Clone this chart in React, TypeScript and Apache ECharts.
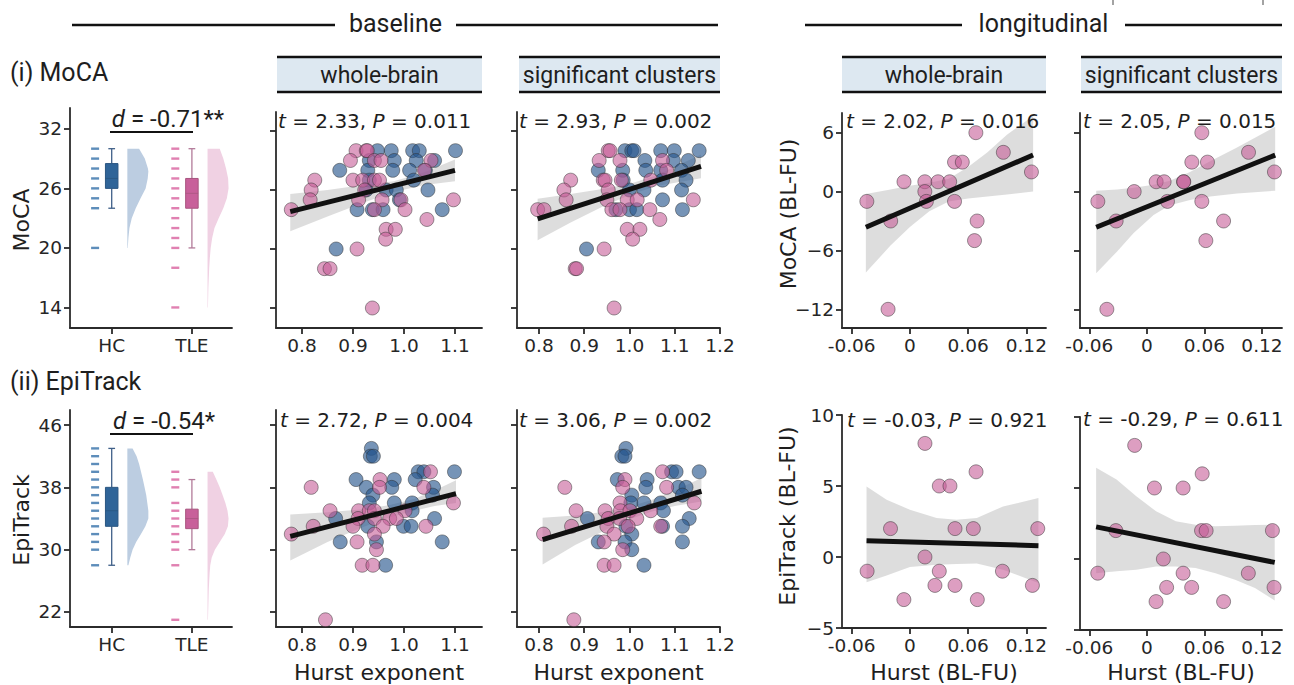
import React, { useEffect, useRef } from "react";
import * as echarts from "echarts";

// ---------------- tick values ----------------
const groupLabels = ["HC", "TLE"];
const mocaTicks = [14, 20, 26, 32];
const epiTicks = [22, 30, 38, 46];
const hurstTicksWB = [0.8, 0.9, 1.0, 1.1];
const hurstTicksSC = [0.8, 0.9, 1.0, 1.1, 1.2];
const dHurstTicks = [-0.06, 0, 0.06, 0.12];
const dMocaTicks = [-12, -6, 0, 6];
const dEpiTicks = [-5, 0, 5, 10];

// ---------------- raincloud data ----------------
const mocaStripHC = [30, 29, 28, 27, 26, 25, 24, 20];
const mocaStripTLE = [30, 29, 28, 27, 26, 25, 24, 23, 22, 21, 20, 18, 14];
const epiStripHC = [43, 42, 41, 40, 39, 38, 37, 36, 35, 34, 33, 32, 31, 30, 28];
const epiStripTLE = [40, 39, 38, 36, 35, 34, 33, 32, 31, 30, 28, 21];

// [min, q1, median, q3, max]
const mocaBoxHC = [24, 26, 27, 28.5, 30];
const mocaBoxTLE = [20, 24, 25.5, 27, 30];
const epiBoxHC = [28, 33, 35, 38, 43];
const epiBoxTLE = [30, 32.7, 34, 35.2, 39];

// [value, relative density]
const mocaViolinHC = [[20, 0.02], [21, 0.05], [22, 0.1], [23, 0.21], [24, 0.4], [25, 0.63], [26, 0.87], [27, 0.97], [27.7, 1.0], [28, 0.98], [29, 0.83], [30, 0.56]];
const mocaViolinTLE = [[14, 0.02], [15, 0.03], [16, 0.04], [17, 0.06], [18, 0.08], [19, 0.11], [20, 0.15], [21, 0.22], [22, 0.33], [23, 0.53], [24, 0.75], [25, 0.92], [26, 1.0], [27, 0.98], [28, 0.88], [29, 0.75], [30, 0.58]];
const epiViolinHC = [[28, 0.05], [29, 0.14], [30, 0.25], [31, 0.42], [32, 0.65], [33, 0.86], [34, 1.0], [35, 1.0], [36, 0.95], [37, 0.9], [38, 0.82], [39, 0.74], [40, 0.65], [41, 0.56], [42, 0.44], [43, 0.25]];
const epiViolinTLE = [[21, 0.02], [22, 0.03], [23, 0.04], [24, 0.05], [25, 0.06], [26, 0.08], [27, 0.1], [28, 0.13], [29, 0.2], [30, 0.35], [31, 0.58], [32, 0.82], [33, 0.97], [34, 1.0], [35, 0.95], [36, 0.85], [37, 0.72], [38, 0.58], [39, 0.42], [40, 0.25]];

const effectTexts = ["-0.71**", "-0.54*"];

// ---------------- baseline scatter: MoCA ----------------
const mocaWB_HC = [[0.948, 30], [0.975, 30], [1.017, 30], [1.03, 30], [1.101, 30], [0.932, 29], [0.981, 29], [1.024, 29], [1.06, 29], [0.874, 28], [0.929, 28], [0.978, 28], [1.011, 28], [1.042, 28], [0.932, 27], [1.019, 27], [0.926, 26], [0.965, 26], [0.985, 26], [1.047, 26], [0.991, 25], [0.908, 24], [0.938, 24], [0.959, 24], [1.075, 24], [0.867, 20]];
const mocaWB_TLE = [[0.906, 30], [0.926, 30], [0.928, 30], [0.895, 29], [0.942, 29], [0.955, 29], [1.053, 29], [1.04, 28], [0.825, 27], [0.9, 27], [0.919, 27], [0.942, 27], [0.952, 27], [0.818, 26], [0.923, 26], [0.816, 25], [0.911, 25], [0.957, 25], [0.994, 25], [1.097, 25], [0.779, 24], [0.942, 24], [1.002, 24], [1.045, 23], [0.965, 22], [0.983, 22], [0.964, 21], [0.908, 20], [0.844, 18], [0.855, 18], [0.938, 14]];
const mocaSC_HC = [[0.99, 30], [1.005, 30], [1.01, 30], [1.069, 30], [1.099, 30], [1.154, 30], [1.034, 29], [1.097, 29], [1.13, 29], [0.931, 28], [0.985, 28], [1.036, 28], [1.069, 28], [1.115, 28], [0.986, 27], [1.073, 27], [1.125, 27], [1.0, 26], [1.032, 26], [1.115, 26], [1.073, 25], [0.97, 24], [1.0, 24], [1.016, 24], [1.117, 24], [0.905, 20]];
const mocaSC_TLE = [[0.953, 30], [0.957, 30], [0.933, 29], [0.979, 29], [1.073, 29], [1.082, 28], [0.87, 27], [0.942, 27], [0.946, 27], [0.982, 27], [1.047, 27], [0.855, 26], [0.953, 26], [0.86, 25], [0.95, 25], [0.995, 25], [1.017, 25], [1.141, 25], [0.797, 24], [0.811, 24], [0.961, 24], [0.979, 24], [1.045, 24], [1.067, 23], [0.995, 22], [1.023, 22], [1.007, 21], [0.944, 20], [0.88, 18], [0.883, 18], [0.966, 14]];

// ---------------- baseline scatter: EpiTrack ----------------
const epiWB_HC = [[0.936, 43], [0.934, 42], [0.94, 42], [1.028, 40], [1.039, 40], [1.099, 40], [0.906, 39], [0.981, 39], [1.022, 39], [0.926, 38], [0.976, 38], [1.058, 38], [0.939, 37], [1.056, 37], [0.932, 36], [0.981, 36], [1.016, 36], [1.016, 35], [0.866, 34], [1.06, 34], [0.929, 33], [0.999, 33], [1.014, 33], [0.875, 31], [0.946, 31], [1.075, 31], [0.964, 28]];
const epiWB_TLE = [[1.052, 40], [0.953, 39], [0.818, 38], [0.952, 38], [1.039, 38], [1.097, 36], [0.855, 35], [0.911, 35], [0.932, 35], [0.942, 35], [1.002, 35], [0.91, 34], [0.942, 34], [0.972, 34], [0.985, 34], [0.822, 33], [0.9, 33], [0.959, 33], [1.043, 33], [0.779, 32], [0.942, 32], [0.908, 31], [0.946, 30], [0.918, 28], [0.939, 28], [0.846, 21]];
const epiSC_HC = [[0.992, 43], [0.983, 42], [0.99, 42], [1.093, 40], [1.103, 40], [1.154, 40], [0.973, 39], [1.039, 39], [1.036, 38], [1.108, 38], [1.125, 38], [1.005, 37], [1.117, 37], [1.003, 36], [1.032, 36], [1.069, 36], [1.075, 35], [0.907, 34], [1.132, 34], [0.992, 33], [1.073, 33], [1.117, 33], [1.005, 32], [0.931, 31], [0.99, 31], [1.117, 31], [1.005, 30], [1.032, 28]];
const epiSC_TLE = [[1.073, 40], [0.99, 39], [0.857, 38], [0.985, 38], [1.082, 38], [0.979, 36], [1.143, 36], [0.882, 35], [0.946, 35], [0.98, 35], [1.001, 35], [1.047, 35], [0.953, 34], [0.978, 34], [1.016, 34], [0.872, 33], [0.95, 33], [0.997, 33], [1.069, 33], [0.81, 32], [0.966, 32], [0.944, 31], [0.985, 30], [0.944, 28], [0.966, 28], [0.877, 21]];

// ---------------- longitudinal scatter (TLE) ----------------
const dMocaWB = [[-0.0444, -1], [-0.0198, -3], [-0.0061, 1], [0.0154, 1], [0.0154, 0], [0.017, -1], [0.029, 1], [0.041, 1], [0.046, 3], [0.054, 3], [0.046, -1], [0.068, 6], [0.0666, -5], [0.0693, -3], [0.0963, 4], [0.1253, 2], [-0.0225, -12]];
const dMocaSC = [[-0.0511, -1], [-0.032, -3], [-0.0132, 0], [0.0097, 1], [0.018, 1], [0.0215, -1], [0.0382, 1], [0.0385, 1], [0.0469, 3], [0.0573, 6], [0.0573, -1], [0.0632, 3], [0.0615, -5], [0.08, -3], [0.106, 4], [0.133, 2], [-0.0417, -12]];
const dEpiWB = [[0.0155, 8], [0.0682, 6], [0.0303, 5], [0.0413, 5], [-0.02, 2], [0.0465, 2], [0.0654, 2], [0.1318, 2], [0.0155, 0], [-0.0441, -1], [0.0303, -1], [0.0954, -1], [0.0258, -2], [0.0465, -2], [0.1263, -2], [-0.0062, -3], [0.0695, -3]];
const dEpiSC = [[-0.0127, 8], [0.0577, 6], [0.0079, 5], [0.0378, 5], [-0.0323, 2], [0.057, 2], [0.0618, 2], [0.1309, 2], [0.0172, 0], [-0.0512, -1], [0.0378, -1], [0.1058, -1], [0.0206, -2], [0.0467, -2], [0.1326, -2], [0.0096, -3], [0.08, -3]];

// ---------------- regression lines [x, y] and CI bands [x, lower, upper] ----------------
const lineMocaWB = [[0.777, 23.8], [1.1, 28.0]];
const bandMocaWB = [[0.777, 21.8, 25.6], [0.85, 23.3, 26.0], [0.92, 24.7, 26.5], [0.98, 25.8, 26.9], [1.04, 26.5, 27.8], [1.1, 26.9, 29.1]];
const lineMocaSC = [[0.797, 23.06], [1.158, 28.4]];
const bandMocaSC = [[0.797, 20.9, 25.1], [0.87, 22.7, 25.6], [0.94, 24.3, 26.1], [1.0, 25.5, 26.6], [1.06, 26.4, 27.5], [1.158, 27.2, 29.6]];
const lineDMocaWB = [[-0.0454, -3.64], [0.127, 3.72]];
const bandDMocaWB = [[-0.0454, -8.26, -0.25], [-0.02, -5.5, 0.2], [0.0, -3.6, 0.6], [0.02, -2.0, 0.9], [0.04, -1.0, 1.3], [0.06, -0.7, 2.5], [0.08, -0.5, 4.0], [0.1, -0.3, 5.8], [0.127, 0.0, 7.7]];
const lineDMocaSC = [[-0.0528, -3.64], [0.1338, 3.72]];
const bandDMocaSC = [[-0.0528, -8.33, 0.09], [-0.031, -6.1, 0.2], [-0.014, -4.25, 0.4], [0.007, -2.4, 0.7], [0.024, -1.4, 1.1], [0.045, -0.86, 2.0], [0.066, -0.5, 3.1], [0.094, -0.2, 4.5], [0.1338, 0.09, 6.6]];
const lineEpiWB = [[0.777, 31.7], [1.102, 37.2]];
const bandEpiWB = [[0.777, 28.6, 34.5], [0.85, 31.0, 34.8], [0.92, 32.9, 35.2], [0.97, 34.1, 35.7], [1.02, 35.0, 36.5], [1.06, 35.6, 37.6], [1.102, 36.0, 38.9]];
const lineEpiSC = [[0.808, 31.3], [1.159, 37.5]];
const bandEpiSC = [[0.808, 28.1, 34.1], [0.88, 30.6, 34.4], [0.95, 32.6, 34.9], [1.0, 33.9, 35.5], [1.05, 34.9, 36.4], [1.1, 35.6, 37.6], [1.159, 36.2, 39.2]];
const lineDEpiWB = [[-0.0447, 1.15], [0.1325, 0.8]];
const bandDEpiWB = [[-0.0447, -1.78, 4.97], [-0.024, -1.3, 4.03], [0.0, -0.7, 3.33], [0.0275, -0.54, 2.74], [0.048, -0.5, 2.62], [0.069, -0.45, 2.74], [0.096, -0.9, 3.56], [0.1325, -1.83, 4.15]];
const lineDEpiSC = [[-0.0529, 2.26], [0.1333, -0.24]];
const bandDEpiSC = [[-0.0529, -1.0, 6.42], [-0.0316, -0.87, 5.6], [-0.011, -0.75, 4.42], [0.0096, -0.52, 3.36], [0.0302, -0.52, 2.66], [0.0508, -0.64, 2.42], [0.0715, -1.0, 2.3], [0.092, -1.46, 2.35], [0.1127, -2.05, 2.4], [0.1333, -2.92, 2.42]];

// ---------------- statistics texts ----------------
const statT = ["2.33", "2.93", "2.02", "2.05", "2.72", "3.06", "-0.03", "-0.29"];
const statP = ["0.011", "0.002", "0.016", "0.015", "0.004", "0.002", "0.921", "0.611"];

// ---------------- styling ----------------
const PLOT_FONT = "DejaVu Sans";
const HEAD_FONT = "Roboto";
const AX = "#2b2b2b";
const HC_DOT = "rgba(40,88,142,0.8)";
const TLE_DOT = "rgba(198,94,152,0.75)";
const BAND = "rgba(160,160,160,0.36)";

const fmtHurst = (v: number) => v.toFixed(1);
const fmtInt = (v: number) => (v < 0 ? "\u2212" + Math.abs(v) : String(v));
const fmtDH = (v: number) => (v === 0 ? "0" : v.toFixed(2));
const fmtGroup = (v: number) => groupLabels[Math.round(v)] ?? "";

function axis(grid: number, min: number, max: number, ticks: number[], fmt: any, showLabels: boolean, isY: boolean) {
  return {
    type: "value",
    gridIndex: grid,
    min,
    max,
    splitLine: { show: false },
    axisLine: { show: true, onZero: false, lineStyle: { color: AX, width: 1.8 } },
    axisTick: { show: true, customValues: ticks, length: 6, lineStyle: { color: AX, width: 1.8 } },
    axisLabel: {
      show: showLabels,
      customValues: ticks,
      formatter: fmt,
      fontFamily: PLOT_FONT,
      fontSize: 18.5,
      color: "#262626",
      margin: isY ? 8 : 8,
    },
  };
}

const grids = [
  { left: 70, top: 108, width: 162, height: 220 },
  { left: 276, top: 112, width: 206, height: 216 },
  { left: 517, top: 112, width: 203, height: 216 },
  { left: 842, top: 113, width: 204, height: 215 },
  { left: 1080, top: 113, width: 202, height: 215 },
  { left: 70, top: 410, width: 162, height: 217 },
  { left: 276, top: 410, width: 206, height: 217 },
  { left: 517, top: 410, width: 203, height: 217 },
  { left: 842, top: 415, width: 204, height: 213 },
  { left: 1080, top: 417, width: 202, height: 213 },
];

const STRIP_OFF = -0.207;
const BOX_HW = 0.078;
const CAP_HW = 0.042;
const VIOLIN_OFF = 0.195;
const VIOLIN_W = 0.262;
const boxFill = ["#2f6498", "#c8609a"];
const boxEdge = ["#2a5580", "#a8557f"];
const whisk = ["#3f5f88", "#b27a99"];
const violinFill = ["#bccde1", "#f0d1e3"];
const stripColor = ["#3571a9", "#d8609e"];

function raincloudSeries(g: number, strips: number[][], boxes: number[][], violins: number[][][]) {
  const violin = {
    type: "custom",
    xAxisIndex: g,
    yAxisIndex: g,
    silent: true,
    z: 1,
    data: [[0, violins[0][0][0]], [1, violins[1][0][0]]],
    renderItem: (params: any, api: any) => {
      const gi = params.dataIndex;
      const prof = violins[gi];
      const base = gi + VIOLIN_OFF;
      const pts = prof.map((p) => api.coord([base + p[1] * VIOLIN_W, p[0]]));
      pts.push(api.coord([base, prof[prof.length - 1][0]]));
      pts.push(api.coord([base, prof[0][0]]));
      return { type: "polygon", shape: { points: pts }, style: { fill: violinFill[gi] } };
    },
  };
  const box = {
    type: "custom",
    xAxisIndex: g,
    yAxisIndex: g,
    silent: true,
    z: 3,
    data: boxes.map((b, i) => [i, ...b]),
    renderItem: (params: any, api: any) => {
      const gi = api.value(0);
      const mn = api.value(1), q1 = api.value(2), md = api.value(3), q3 = api.value(4), mx = api.value(5);
      const c = (x: number, y: number) => api.coord([x, y]);
      const pMin = c(gi, mn), pQ1 = c(gi, q1), pQ3 = c(gi, q3), pMax = c(gi, mx), pMd = c(gi, md);
      const xl = c(gi - BOX_HW, md)[0], xr = c(gi + BOX_HW, md)[0];
      const cl = c(gi - CAP_HW, md)[0], cr = c(gi + CAP_HW, md)[0];
      const ws = { stroke: whisk[gi], lineWidth: 1.3 };
      return {
        type: "group",
        children: [
          { type: "line", shape: { x1: pMin[0], y1: pMin[1], x2: pQ1[0], y2: pQ1[1] }, style: ws },
          { type: "line", shape: { x1: pQ3[0], y1: pQ3[1], x2: pMax[0], y2: pMax[1] }, style: ws },
          { type: "line", shape: { x1: cl, y1: pMin[1], x2: cr, y2: pMin[1] }, style: ws },
          { type: "line", shape: { x1: cl, y1: pMax[1], x2: cr, y2: pMax[1] }, style: ws },
          { type: "rect", shape: { x: xl, y: pQ3[1], width: xr - xl, height: pQ1[1] - pQ3[1] }, style: { fill: boxFill[gi], stroke: boxEdge[gi], lineWidth: 1 } },
          { type: "line", shape: { x1: xl, y1: pMd[1], x2: xr, y2: pMd[1] }, style: { stroke: boxEdge[gi], lineWidth: 0.8 } },
        ],
      };
    },
  };
  const stripSeries = strips.map((s, gi) => ({
    type: "scatter",
    xAxisIndex: g,
    yAxisIndex: g,
    silent: true,
    z: 2,
    symbol: "rect",
    symbolSize: [8, 2.4],
    itemStyle: { color: stripColor[gi] },
    data: s.map((v) => [gi + STRIP_OFF, v]),
  }));
  return [violin, box, ...stripSeries];
}

function scatterSeries(g: number, groups: { pts: number[][]; color: string }[], line: number[][], band: number[][]) {
  const bandS = {
    type: "custom",
    xAxisIndex: g,
    yAxisIndex: g,
    silent: true,
    z: 1,
    data: [[band[0][0], band[0][1]]],
    renderItem: (params: any, api: any) => {
      const up = band.map((b) => api.coord([b[0], b[2]]));
      const lo = band.slice().reverse().map((b) => api.coord([b[0], b[1]]));
      return { type: "polygon", shape: { points: up.concat(lo) }, style: { fill: BAND } };
    },
  };
  const dots = groups.map((gr) => ({
    type: "scatter",
    xAxisIndex: g,
    yAxisIndex: g,
    silent: true,
    z: 2,
    symbolSize: 14,
    itemStyle: { color: gr.color, borderColor: "rgba(45,45,45,0.75)", borderWidth: 0.8 },
    data: gr.pts,
  }));
  const reg = {
    type: "line",
    xAxisIndex: g,
    yAxisIndex: g,
    silent: true,
    z: 3,
    symbol: "none",
    lineStyle: { color: "#111", width: 5 },
    data: line,
  };
  return [bandS, ...dots, reg];
}

function txt(x: number, y: number, text: string, size: number, family: string, extra: any = {}) {
  return {
    type: "text",
    x,
    y,
    silent: true,
    z: 100,
    style: {
      text,
      fontSize: size,
      fontFamily: family,
      fill: "#1e1e1e",
      textAlign: "left",
      align: "left",
      textVerticalAlign: "middle",
      verticalAlign: "middle",
      ...extra,
    },
  };
}
function ln(x1: number, y1: number, x2: number, y2: number, w = 2.5, color = "#111") {
  return { type: "line", silent: true, z: 100, shape: { x1, y1, x2, y2 }, style: { stroke: color, lineWidth: w } };
}
function centerTxt(x: number, y: number, text: string, size: number, family: string, extra: any = {}) {
  return txt(x, y, text, size, family, { textAlign: "center", align: "center", ...extra });
}
function rotTxt(x: number, y: number, text: string, size: number) {
  return { ...centerTxt(x, y, text, size, PLOT_FONT), rotation: Math.PI / 2 };
}
function statTxt(x: number, y: number, i: number) {
  return txt(x, y, `{i|t} = ${statT[i]}, {i|P} = ${statP[i]}`, 20, PLOT_FONT, {
    rich: { i: { fontStyle: "italic", fontFamily: PLOT_FONT, fontSize: 20, fill: "#1e1e1e" } },
  });
}
function effTxt(x: number, y: number, i: number) {
  return centerTxt(x, y, `{i|d} = ${effectTexts[i]}`, 24, HEAD_FONT, {
    rich: { i: { fontStyle: "italic", fontFamily: HEAD_FONT, fontSize: 24, fill: "#1e1e1e" } },
  });
}
function headerBox(x0: number, x1: number, label: string) {
  return [
    { type: "rect", silent: true, z: 99, shape: { x: x0, y: 57, width: x1 - x0, height: 35 }, style: { fill: "#dde8f1" } },
    ln(x0, 57, x1, 57, 2.5),
    ln(x0, 92, x1, 92, 2.5),
    centerTxt((x0 + x1) / 2, 75, label, 23, HEAD_FONT),
  ];
}

export default function App() {
  const ref = useRef<HTMLDivElement>(null);
  useEffect(() => {
    if (!ref.current) return;
    const chart = echarts.init(ref.current, undefined, { renderer: "svg" });

    const xAxes = [
      axis(0, -0.52, 1.5, [0, 1], fmtGroup, true, false),
      axis(1, 0.749, 1.153, hurstTicksWB, fmtHurst, true, false),
      axis(2, 0.7514, 1.2, hurstTicksSC, fmtHurst, true, false),
      axis(3, -0.07, 0.1403, dHurstTicks, fmtDH, true, false),
      axis(4, -0.0697, 0.1409, dHurstTicks, fmtDH, true, false),
      axis(5, -0.52, 1.5, [0, 1], fmtGroup, true, false),
      axis(6, 0.749, 1.153, hurstTicksWB, fmtHurst, true, false),
      axis(7, 0.7514, 1.2, hurstTicksSC, fmtHurst, true, false),
      axis(8, -0.07, 0.1403, dHurstTicks, fmtDH, true, false),
      axis(9, -0.0697, 0.1409, dHurstTicks, fmtDH, true, false),
    ];
    const yAxes = [
      axis(0, 11.93, 34.1, mocaTicks, fmtInt, true, true),
      axis(1, 11.965, 33.93, mocaTicks, fmtInt, false, true),
      axis(2, 11.965, 33.93, mocaTicks, fmtInt, false, true),
      axis(3, -13.906, 8.008, dMocaTicks, fmtInt, true, true),
      axis(4, -13.906, 8.008, dMocaTicks, fmtInt, false, true),
      axis(5, 20.074, 47.93, epiTicks, fmtInt, true, true),
      axis(6, 20.074, 47.93, epiTicks, fmtInt, false, true),
      axis(7, 20.074, 47.93, epiTicks, fmtInt, false, true),
      axis(8, -5, 10, dEpiTicks, fmtInt, true, true),
      axis(9, -5, 10, dEpiTicks, fmtInt, false, true),
    ];

    const series = [
      ...raincloudSeries(0, [mocaStripHC, mocaStripTLE], [mocaBoxHC, mocaBoxTLE], [mocaViolinHC, mocaViolinTLE]),
      ...scatterSeries(1, [{ pts: mocaWB_HC, color: HC_DOT }, { pts: mocaWB_TLE, color: TLE_DOT }], lineMocaWB, bandMocaWB),
      ...scatterSeries(2, [{ pts: mocaSC_HC, color: HC_DOT }, { pts: mocaSC_TLE, color: TLE_DOT }], lineMocaSC, bandMocaSC),
      ...scatterSeries(3, [{ pts: dMocaWB, color: TLE_DOT }], lineDMocaWB, bandDMocaWB),
      ...scatterSeries(4, [{ pts: dMocaSC, color: TLE_DOT }], lineDMocaSC, bandDMocaSC),
      ...raincloudSeries(5, [epiStripHC, epiStripTLE], [epiBoxHC, epiBoxTLE], [epiViolinHC, epiViolinTLE]),
      ...scatterSeries(6, [{ pts: epiWB_HC, color: HC_DOT }, { pts: epiWB_TLE, color: TLE_DOT }], lineEpiWB, bandEpiWB),
      ...scatterSeries(7, [{ pts: epiSC_HC, color: HC_DOT }, { pts: epiSC_TLE, color: TLE_DOT }], lineEpiSC, bandEpiSC),
      ...scatterSeries(8, [{ pts: dEpiWB, color: TLE_DOT }], lineDEpiWB, bandDEpiWB),
      ...scatterSeries(9, [{ pts: dEpiSC, color: TLE_DOT }], lineDEpiSC, bandDEpiSC),
    ];

    const graphic = [
      // section headers
      ln(72, 25, 335, 25),
      centerTxt(395.5, 23, "baseline", 25, HEAD_FONT),
      ln(456, 25, 718, 25),
      ln(805, 25, 962, 25),
      centerTxt(1043.5, 23, "longitudinal", 25, HEAD_FONT),
      ln(1125, 25, 1282, 25),
      ln(1113, 0, 1113, 5, 1.2, "#666"),
      ln(1263, 0, 1263, 5, 1.2, "#666"),
      ...headerBox(277, 482, "whole-brain"),
      ...headerBox(519, 720, "significant clusters"),
      ...headerBox(842, 1046, "whole-brain"),
      ...headerBox(1081, 1282, "significant clusters"),
      // row labels
      txt(10, 72, "(i) MoCA", 25, HEAD_FONT),
      txt(10, 381, "(ii) EpiTrack", 25, HEAD_FONT),
      // effect sizes
      effTxt(168, 119, 0),
      ln(110, 132, 193, 132, 2.2),
      effTxt(164, 421, 1),
      ln(110, 434, 193, 434, 2.2),
      // stats
      statTxt(278, 121, 0),
      statTxt(519, 121, 1),
      statTxt(846, 121, 2),
      statTxt(1083, 121, 3),
      statTxt(280, 420, 4),
      statTxt(519, 420, 5),
      statTxt(847, 420, 6),
      statTxt(1083, 419, 7),
      // axis names
      rotTxt(21, 220, "MoCA", 22),
      rotTxt(21, 520, "EpiTrack", 22),
      rotTxt(788, 214, "MoCA (BL-FU)", 22),
      rotTxt(787, 516, "EpiTrack (BL-FU)", 22),
      centerTxt(379, 672, "Hurst exponent", 22, PLOT_FONT),
      centerTxt(618.5, 672, "Hurst exponent", 22, PLOT_FONT),
      centerTxt(944, 672, "Hurst (BL-FU)", 22, PLOT_FONT),
      centerTxt(1181, 672, "Hurst (BL-FU)", 22, PLOT_FONT),
    ];

    chart.setOption({
      animation: false,
      backgroundColor: "#ffffff",
      grid: grids.map((g) => ({ ...g, containLabel: false })),
      xAxis: xAxes,
      yAxis: yAxes,
      series,
      graphic,
    });
    return () => chart.dispose();
  }, []);
  return <div ref={ref} style={{ position: "fixed", left: 0, top: 0, width: 1294, height: 685 }} />;
}
